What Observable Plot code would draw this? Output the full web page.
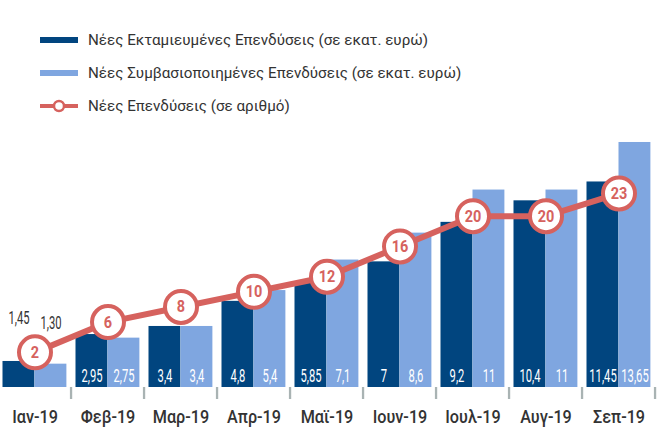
<!DOCTYPE html>
<html>
<head>
<meta charset="utf-8">
<script src="https://cdn.jsdelivr.net/npm/d3@7"></script>
<script src="https://cdn.jsdelivr.net/npm/@observablehq/plot@0.6"></script>
<style>
  html, body { margin: 0; padding: 0; background: #fff; }
  body { width: 662px; height: 432px; overflow: hidden; font-family: Roboto, "Noto Sans", sans-serif; }
  #legend { position: relative; height: 120px; width: 662px; }
  .row { position: absolute; left: 40px; height: 24px; display: flex; align-items: center; }
  .row span { margin-left: 10px; font-size: 15.2px; color: #333; white-space: nowrap; }
  .sw { width: 38px; height: 6px; }
  #chart svg { display: block; }
</style>
</head>
<body>
<div id="legend"></div>
<div id="chart"></div>
<script>
const months = ["Ιαν-19","Φεβ-19","Μαρ-19","Απρ-19","Μαϊ-19","Ιουν-19","Ιουλ-19","Αυγ-19","Σεπ-19"];
const disbursed = [1.45, 2.95, 3.4, 4.8, 5.85, 7, 9.2, 10.4, 11.45];
const contracted = [1.30, 2.75, 3.4, 5.4, 7.1, 8.6, 11, 11, 13.65];
const disbursedLabels = ["1,45","2,95","3,4","4,8","5,85","7","9,2","10,4","11,45"];
const contractedLabels = ["1,30","2,75","3,4","5,4","7,1","8,6","11","11","13,65"];
const counts = [2, 6, 8, 10, 12, 16, 20, 20, 23];
const seriesNames = ["Νέες Εκταμιευμένες Επενδύσεις (σε εκατ. ευρώ)", "Νέες Συμβασιοποιημένες Επενδύσεις (σε εκατ. ευρώ)", "Νέες Επενδύσεις (σε αριθμό)"];

const DARK = "#01457f", LIGHT = "#7fa6e0", RED = "#d6625e";
const FONT = 'Roboto, "Noto Sans", sans-serif';

// legend
const legend = document.getElementById("legend");
const rowsY = [28, 61, 94];
seriesNames.forEach((name, i) => {
  const row = document.createElement("div");
  row.className = "row";
  row.style.top = rowsY[i] + "px";
  let sym;
  if (i < 2) {
    sym = `<div class="sw" style="background:${i === 0 ? DARK : LIGHT}"></div>`;
  } else {
    sym = `<svg width="38" height="14"><line x1="0" x2="38" y1="7" y2="7" stroke="${RED}" stroke-width="4"/><circle cx="19" cy="7" r="5" fill="#fff" stroke="${RED}" stroke-width="2.5"/></svg>`;
  }
  row.innerHTML = sym + `<span>${name}</span>`;
  legend.appendChild(row);
});

const idx = d3.range(months.length);
const bw = (655.5 + 2.5) / months.length;
const base = 267, pxPerUnit = 17.95;
// secondary (count) axis mapped onto primary units
const countScale = d3.scaleLinear().domain([0, 23]).range([1.114, 10.81]);

const chart = Plot.plot({
  width: 662,
  height: 312,
  marginLeft: 0, marginRight: 0, marginTop: 0, marginBottom: 45,
  style: { fontFamily: FONT, background: "transparent" },
  x: { domain: months, range: [-2.5, 655.5], padding: 0, axis: null },
  y: { domain: [0, 14], range: [base, base - 14 * pxPerUnit], axis: null },
  marks: [
    Plot.barY(idx, { x: i => months[i], y: i => disbursed[i], fill: DARK, insetLeft: 4.5, insetRight: bw - 36.5 }),
    Plot.barY(idx, { x: i => months[i], y: i => contracted[i], fill: LIGHT, insetLeft: 36.5, insetRight: bw - 68.5 }),
    // in-bar labels
    Plot.text(idx.slice(1), { x: i => months[i], y: () => 0, text: i => disbursedLabels[i], dx: -16, dy: -11, fill: "#fff", fontSize: 17.5, lineAnchor: "middle", className: "cond" }),
    Plot.text(idx.slice(1), { x: i => months[i], y: () => 0, text: i => contractedLabels[i], dx: 16, dy: -11, fill: "#fff", fontSize: 17.5, lineAnchor: "middle", className: "cond" }),
    // first month labels above bars
    Plot.text([0], { x: i => months[i], y: i => disbursed[i], text: i => disbursedLabels[i], dx: -16, dy: -43, fill: "#333", fontSize: 17.5, lineAnchor: "middle", className: "cond" }),
    Plot.text([0], { x: i => months[i], y: i => contracted[i], text: i => contractedLabels[i], dx: 16, dy: -41, fill: "#333", fontSize: 17.5, lineAnchor: "middle", className: "cond" }),
    // group separator ticks (thin bars straddling each band's right edge, below the baseline)
    Plot.barY(idx, { x: i => months[i], y1: 0, y2: -12 / pxPerUnit, insetLeft: bw - 1.2, insetRight: -1.2, fill: "#a9b3b3" }),
    // x labels
    Plot.text(idx, { x: i => months[i], y: () => 0, text: i => months[i], dy: 30, fill: "#333", fontSize: 18, fontWeight: 500, lineAnchor: "middle", className: "xlab" }),
    // count line
    Plot.line(idx, { x: i => months[i], y: i => countScale(counts[i]), stroke: RED, strokeWidth: 6 }),
    Plot.dot(idx, { x: i => months[i], y: i => countScale(counts[i]), r: 16, fill: "#fff", stroke: RED, strokeWidth: 4 }),
    Plot.text(idx, { x: i => months[i], y: i => countScale(counts[i]), text: i => String(counts[i]), fill: RED, fontSize: 17, fontWeight: "bold", lineAnchor: "middle", className: "cond2" })
  ]
});
document.getElementById("chart").appendChild(chart);

// condensed look for the numeric labels
function condense(sel, factor) {
  chart.querySelectorAll(sel + " text").forEach(t => {
    const w = t.getComputedTextLength();
    t.setAttribute("textLength", (w * factor).toFixed(1));
    t.setAttribute("lengthAdjust", "spacingAndGlyphs");
  });
}
condense(".cond", 0.64);
condense(".cond2", 0.85);
condense(".xlab", 0.9);
</script>
</body>
</html>
